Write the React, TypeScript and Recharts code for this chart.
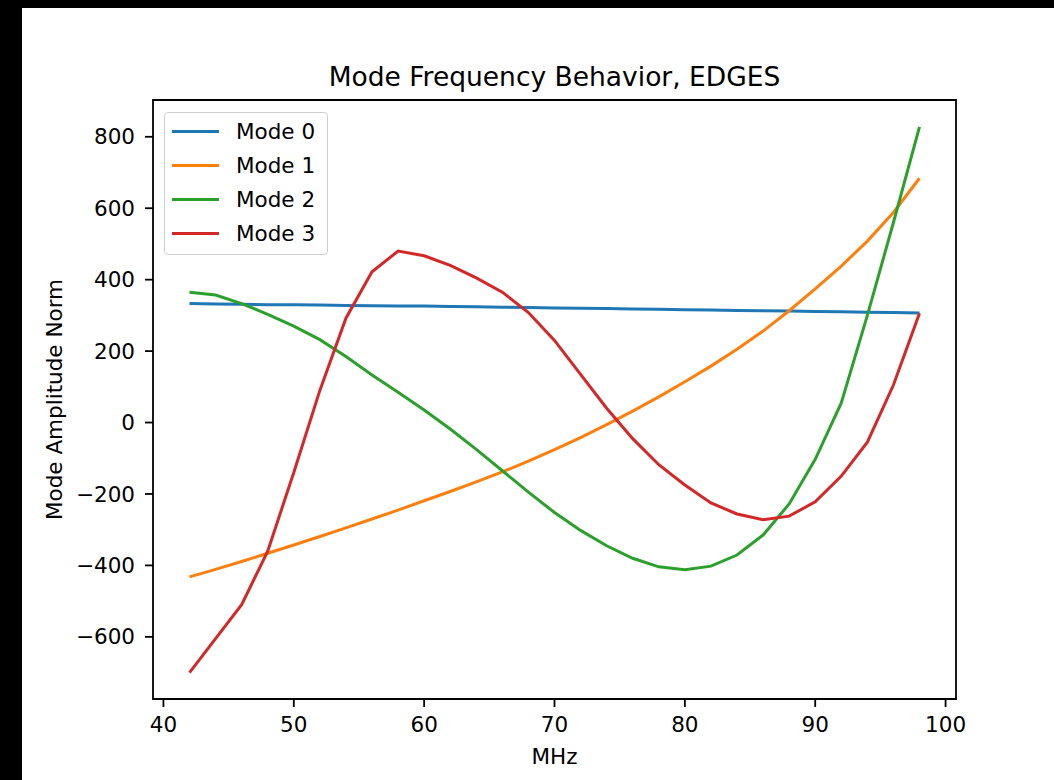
import { LineChart, Line, XAxis, YAxis, Legend, ReferenceArea, Label } from "recharts";

const freqs = [42, 44, 46, 48, 50, 52, 54, 56, 58, 60, 62, 64, 66, 68, 70, 72, 74, 76, 78, 80, 82, 84, 86, 88, 90, 92, 94, 96, 98];
const mode0 = [333, 332, 331, 330, 330, 329, 328, 327, 326, 326, 325, 324, 323, 322, 321, 320, 319, 318, 317, 316, 315, 314, 313, 312, 311, 310, 309, 308, 307];
const mode1 = [-432, -411, -389, -366, -343, -319, -295, -270, -245, -219, -193, -166, -138, -108, -76, -42, -6, 32, 72, 114, 158, 205, 256, 313, 374, 438, 508, 588, 684];
const mode2 = [365, 357, 333, 303, 270, 232, 185, 133, 85, 35, -18, -75, -135, -195, -252, -302, -345, -380, -404, -412, -402, -371, -315, -228, -103, 55, 300, 560, 828];
const mode3 = [-700, -605, -510, -360, -140, 90, 292, 422, 480, 467, 440, 405, 365, 308, 230, 135, 40, -45, -118, -175, -225, -256, -272, -262, -222, -150, -55, 105, 306];

const xTicks = [40, 50, 60, 70, 80, 90, 100];
const yTicks = [-600, -400, -200, 0, 200, 400, 600, 800];
const xDomain: [number, number] = [39.2, 100.8];
const yDomain: [number, number] = [-774, 903];

const seriesKeys = ["m0", "m1", "m2", "m3"];
const seriesNames = ["Mode 0", "Mode 1", "Mode 2", "Mode 3"];
const seriesColors = ["#1f77b4", "#ff7f0e", "#2ca02c", "#d62728"];

const data = freqs.map((f, i) => ({ mhz: f, m0: mode0[i], m1: mode1[i], m2: mode2[i], m3: mode3[i] }));

const FONT = "'DejaVu Sans', sans-serif";
const tickStyle = { fill: "#000", fontSize: 21.5, fontFamily: FONT };

const fmt = (v: number) => (v < 0 ? "\u2212" + Math.abs(v) : String(v));

function LegendBox({ payload }: any) {
  const items = (payload || []) as any[];
  return (
    <div
      style={{
        boxSizing: "border-box",
        width: 164,
        height: 143,
        border: "1px solid #cfcfcf",
        borderRadius: 4,
        background: "rgba(255,255,255,0.8)",
        paddingTop: 1.8,
        fontFamily: FONT,
        fontSize: 21.5,
        color: "#000",
      }}
    >
      {items.map((it) => (
        <div key={it.value} style={{ height: 33.8, display: "flex", alignItems: "center" }}>
          <div style={{ marginLeft: 7, width: 47, height: 3, background: it.color }} />
          <span style={{ marginLeft: 17, whiteSpace: "nowrap" }}>{it.value}</span>
        </div>
      ))}
    </div>
  );
}

export default function App() {
  return (
    <div style={{ position: "absolute", left: 0, top: 0, width: 1054, height: 780, background: "#000" }}>
      <div style={{ position: "absolute", left: 22, top: 8, right: 0, bottom: 0, background: "#fff" }} />
      <div
        style={{
          position: "absolute",
          left: 153,
          width: 803,
          top: 63.6,
          textAlign: "center",
          fontFamily: FONT,
          fontSize: 26.5,
          lineHeight: 1,
          color: "#000",
          whiteSpace: "nowrap",
        }}
      >
        Mode Frequency Behavior, EDGES
      </div>
      <div style={{ position: "absolute", left: 0, top: 0 }}>
        <LineChart width={1054} height={780} data={data} margin={{ top: 100, right: 98, bottom: 0, left: 53 }}>
          <XAxis
            dataKey="mhz"
            type="number"
            domain={xDomain}
            ticks={xTicks}
            allowDataOverflow
            height={81}
            axisLine={false}
            tickLine={{ stroke: "#000", strokeWidth: 1.8 }}
            tickSize={8}
            tickMargin={10}
            tick={tickStyle}
            interval={0}
          >
            <Label value="MHz" position="insideBottom" offset={16} style={{ fill: "#000", fontSize: 21.5, fontFamily: FONT }} />
          </XAxis>
          <YAxis
            type="number"
            domain={yDomain}
            ticks={yTicks}
            allowDataOverflow
            width={100}
            axisLine={false}
            tickLine={{ stroke: "#000", strokeWidth: 1.8 }}
            tickSize={8}
            tickMargin={10}
            tick={tickStyle}
            tickFormatter={fmt}
            interval={0}
          >
            <Label
              value="Mode Amplitude Norm"
              position="center"
              angle={-90}
              dx={-48.6}
              style={{ fill: "#000", fontSize: 21.5, fontFamily: FONT, textAnchor: "middle" }}
            />
          </YAxis>
          {seriesKeys.map((k, i) => (
            <Line
              key={k}
              type="linear"
              dataKey={k}
              name={seriesNames[i]}
              stroke={seriesColors[i]}
              strokeWidth={3}
              dot={false}
              activeDot={false}
              isAnimationActive={false}
            />
          ))}
          <ReferenceArea
            x1={xDomain[0]}
            x2={xDomain[1]}
            y1={yDomain[0]}
            y2={yDomain[1]}
            fill="none"
            fillOpacity={0}
            stroke="#000"
            strokeWidth={1.8}
            ifOverflow="visible"
          />
          <Legend
            layout="horizontal"
            verticalAlign="middle"
            align="center"
            content={<LegendBox />}
            wrapperStyle={{ left: 164, top: 112, width: 164, height: 143 }}
          />
        </LineChart>
      </div>
    </div>
  );
}
